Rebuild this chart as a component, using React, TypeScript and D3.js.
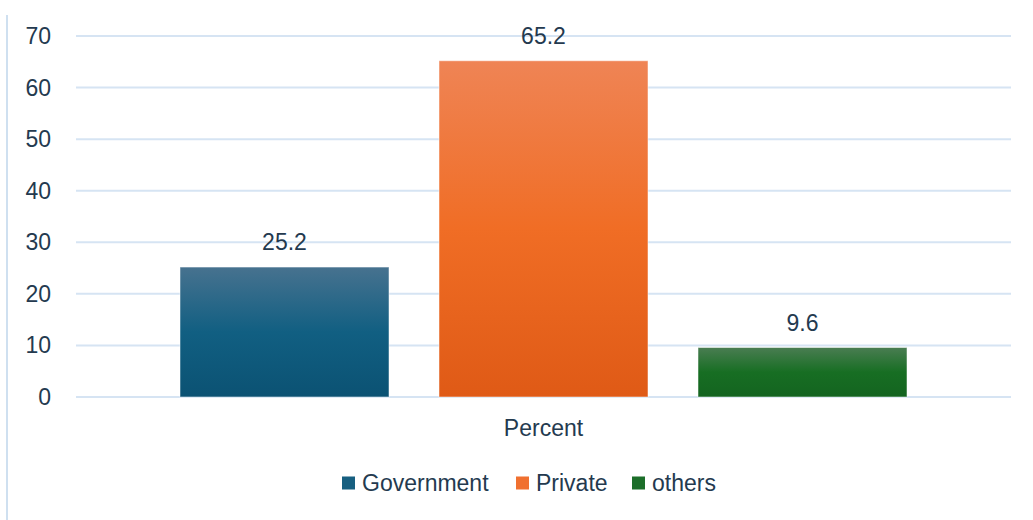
import React from "react";
import { scaleBand, scaleLinear } from "d3";

const categories = ["Government", "Private", "others"];
const values = [25.2, 65.2, 9.6];
const yTicks = [0, 10, 20, 30, 40, 50, 60, 70];
const axisTitle = "Percent";

const gradients = [
  { id: "gGov", top: "#47728f", mid: "#115f82", bottom: "#0b5273", swatch: "#175f80" },
  { id: "gPriv", top: "#ef8455", mid: "#f06d25", bottom: "#df5a16", swatch: "#f07030" },
  { id: "gOth", top: "#4a7d52", mid: "#176e23", bottom: "#146420", swatch: "#1c6e2a" },
];

export default function App() {
  const width = 1033;
  const height = 520;
  const margin = { top: 36, right: 22, bottom: 123, left: 76 };
  const font = "'Liberation Sans', Arial, sans-serif";
  const fontSize = 23;
  const textColor = "#243a4f";

  const x = scaleBand<string>()
    .domain([axisTitle])
    .range([margin.left, width - margin.right]);

  // barras dentro de la única categoría
  const inner = scaleBand<string>()
    .domain(categories)
    .range([x(axisTitle)! + 104, x(axisTitle)! + x.bandwidth() - 104])
    .paddingInner(50 / 259);

  const y = scaleLinear()
    .domain([0, 70])
    .range([height - margin.bottom, margin.top]);

  const legendX = [342, 516, 632];

  return (
    <svg
      width={width}
      height={height}
      style={{ position: "fixed", top: 0, left: 0, background: "#fff" }}
    >
      <defs>
        {gradients.map((g) => (
          <linearGradient key={g.id} id={g.id} x1="0" y1="0" x2="0" y2="1">
            <stop offset="0%" stopColor={g.top} />
            <stop offset="50%" stopColor={g.mid} />
            <stop offset="100%" stopColor={g.bottom} />
          </linearGradient>
        ))}
      </defs>

      {/* borde izquierdo */}
      <line x1={7} x2={7} y1={15} y2={height} stroke="#cfe0f0" strokeWidth={2} />

      {/* rejilla y eje Y */}
      {yTicks.map((t) => (
        <g key={t}>
          <line
            x1={margin.left}
            x2={width - margin.right}
            y1={y(t)}
            y2={y(t)}
            stroke="#d6e4f3"
            strokeWidth={2}
          />
          <text
            x={51}
            y={y(t)}
            dy="0.35em"
            textAnchor="end"
            fontFamily={font}
            fontSize={fontSize}
            fill={textColor}
          >
            {t}
          </text>
        </g>
      ))}

      {/* barras */}
      {categories.map((c, i) => (
        <g key={c}>
          <rect
            x={inner(c)}
            y={y(values[i])}
            width={inner.bandwidth()}
            height={y(0) - y(values[i])}
            fill={`url(#${gradients[i].id})`}
            stroke="#ffffff"
            strokeOpacity={0.5}
            strokeWidth={1}
          />
          <text
            x={inner(c)! + inner.bandwidth() / 2}
            y={y(values[i]) - 25}
            dy="0.35em"
            textAnchor="middle"
            fontFamily={font}
            fontSize={fontSize}
            fill={textColor}
          >
            {values[i]}
          </text>
        </g>
      ))}

      {/* título del eje X */}
      <text
        x={x(axisTitle)! + x.bandwidth() / 2}
        y={428}
        dy="0.35em"
        textAnchor="middle"
        fontFamily={font}
        fontSize={fontSize}
        fill={textColor}
      >
        {axisTitle}
      </text>

      {/* leyenda */}
      {categories.map((c, i) => (
        <g key={c} transform={`translate(${legendX[i]}, 483)`}>
          <rect x={0} y={-6.5} width={13} height={13} fill={gradients[i].swatch} />
          <text
            x={20}
            y={0}
            dy="0.35em"
            fontFamily={font}
            fontSize={fontSize}
            fill={textColor}
          >
            {c}
          </text>
        </g>
      ))}
    </svg>
  );
}
